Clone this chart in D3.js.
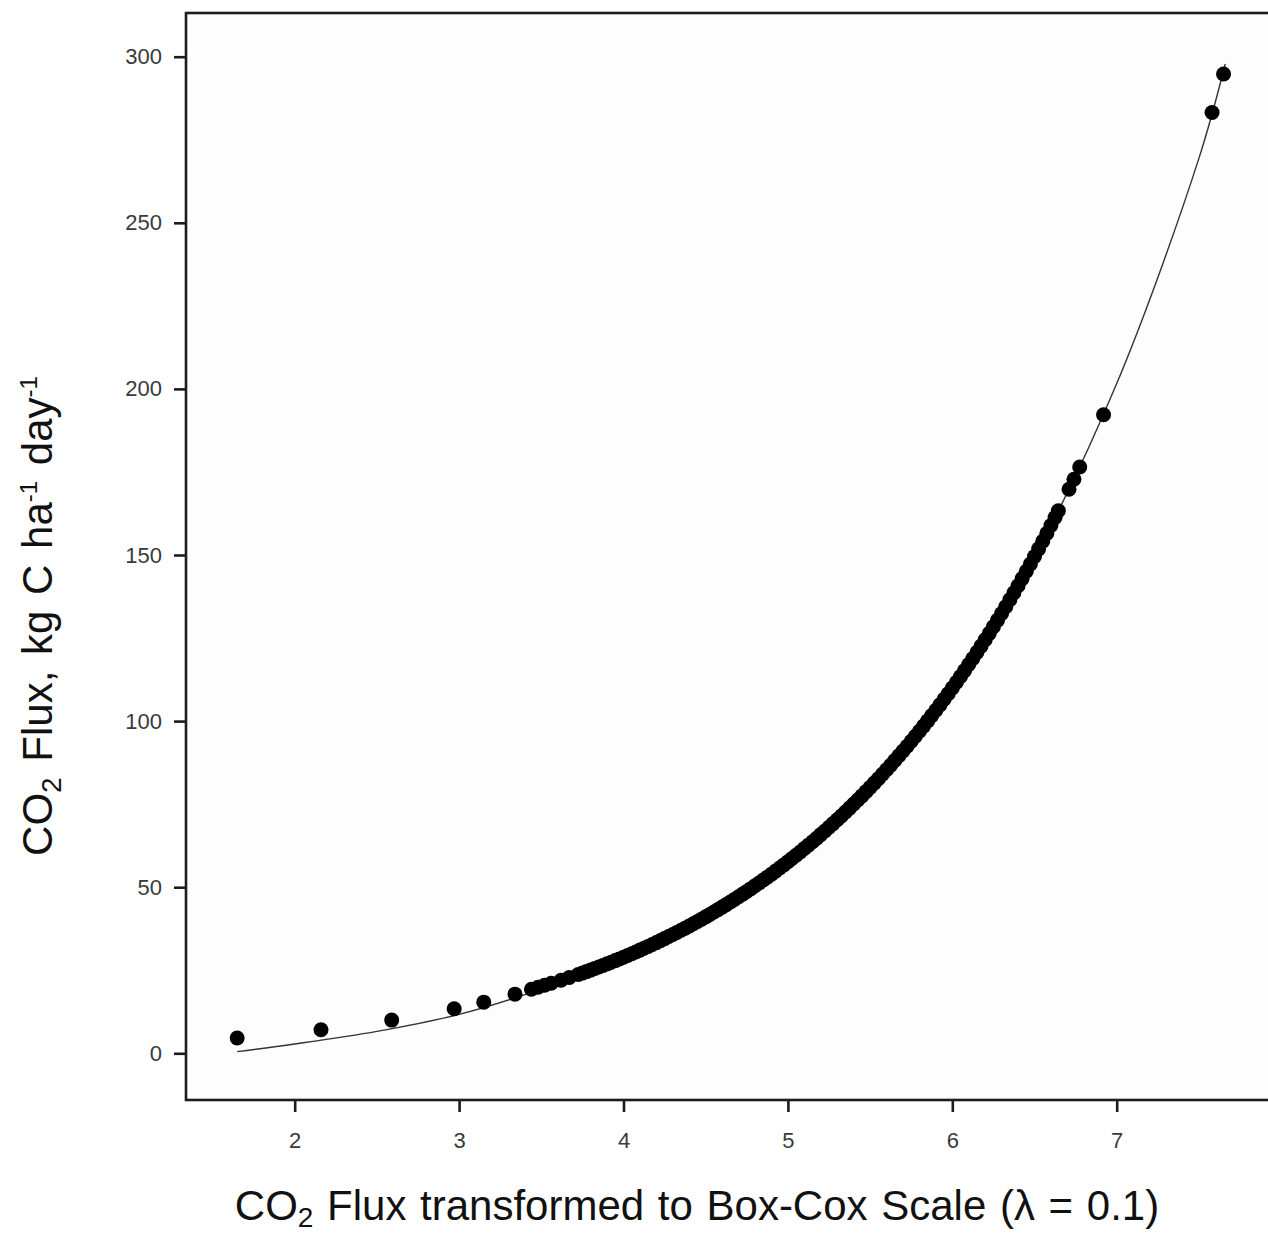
<!DOCTYPE html>
<html>
<head>
<meta charset="utf-8">
<script src="https://cdn.jsdelivr.net/npm/d3@7"></script>
<style>
	html, body { margin: 0; padding: 0; background: #fff; }
	svg { display: block; font-family: "Liberation Sans", Arial, sans-serif; }
</style>
</head>
<body>
<svg id="chart" width="1268" height="1233"></svg>
<script>
'use strict';

// observations: flux on the Box-Cox scale (lambda = 0.1) and the raw flux
var boxCox = [
	1.65, 2.16, 2.59, 2.97, 3.15, 3.34, 3.44, 3.48, 3.52, 3.56, 3.62, 3.67,
	3.725, 3.75, 3.775, 3.8, 3.825, 3.85, 3.875, 3.9, 3.925, 3.95, 3.975,
	4.0, 4.025, 4.05, 4.075, 4.1, 4.125, 4.15, 4.175, 4.2, 4.225, 4.25, 4.275,
	4.3, 4.325, 4.35, 4.375, 4.4, 4.425, 4.45, 4.475, 4.5, 4.525, 4.55, 4.575,
	4.6, 4.625, 4.65, 4.675, 4.7, 4.725, 4.75, 4.775, 4.8, 4.825, 4.85, 4.875,
	4.9, 4.925, 4.95, 4.975, 5.0, 5.025, 5.05, 5.075, 5.1, 5.125, 5.15, 5.175,
	5.2, 5.225, 5.25, 5.275, 5.3, 5.325, 5.35, 5.375, 5.4, 5.425, 5.45, 5.475,
	5.5, 5.525, 5.55, 5.575, 5.6, 5.625, 5.65, 5.675, 5.7, 5.725, 5.75, 5.775,
	5.8, 5.825, 5.85, 5.875, 5.9, 5.925, 5.95, 5.975, 6.0, 6.025, 6.05, 6.075,
	6.1, 6.125, 6.15, 6.175, 6.2, 6.225, 6.25, 6.275, 6.3, 6.325, 6.35, 6.375,
	6.4, 6.425, 6.45, 6.475, 6.5, 6.525, 6.55, 6.575, 6.6, 6.625,
	6.645, 6.71, 6.74, 6.775, 6.92, 7.58, 7.65
];
var flux = [
	4.6, 7.1, 10.0, 13.4, 15.4, 17.8, 19.3, 19.9, 20.5, 21.1, 22.0, 22.8,
	23.72, 24.15, 24.60, 25.05, 25.51, 25.97, 26.44, 26.93, 27.41, 27.91, 28.41,
	28.93, 29.45, 29.97, 30.51, 31.06, 31.61, 32.18, 32.75, 33.33, 33.92, 34.52, 35.14,
	35.76, 36.39, 37.02, 37.68, 38.34, 39.01, 39.69, 40.38, 41.08, 41.80, 42.52, 43.26,
	44.01, 44.77, 45.54, 46.32, 47.12, 47.92, 48.74, 49.57, 50.42, 51.28, 52.15, 53.03,
	53.93, 54.84, 55.77, 56.71, 57.67, 58.63, 59.61, 60.61, 61.63, 62.65, 63.69, 64.75,
	65.83, 66.92, 68.03, 69.15, 70.29, 71.45, 72.62, 73.81, 75.03, 76.25, 77.49, 78.76,
	80.04, 81.34, 82.66, 84.00, 85.36, 86.73, 88.13, 89.55, 90.99, 92.45, 93.93, 95.43,
	96.95, 98.50, 100.06, 101.65, 103.27, 104.90, 106.56, 108.24, 109.95, 111.68, 113.43, 115.21,
	117.02, 118.84, 120.69, 122.57, 124.49, 126.42, 128.38, 130.38, 132.40, 134.44, 136.51, 138.62,
	140.75, 142.90, 145.09, 147.31, 149.57, 151.85, 154.16, 156.50, 158.88, 161.28,
	163.3, 169.8, 172.8, 176.5, 192.2, 283.2, 294.8
];

// fitted curve through the observations
var fitX = [1.65, 2.0, 2.5, 3.0, 3.5, 4.0, 4.5, 5.0, 5.5, 6.0, 6.5, 7.0, 7.5, 7.66];
var fitY = [0.5, 2.8, 6.6, 11.7, 19.3, 28.6, 41.1, 57.7, 80.0, 110.0, 149.6, 201.6, 269.4, 297.8];

var xTicks = [2, 3, 4, 5, 6, 7];
var yTicks = [0, 50, 100, 150, 200, 250, 300];

var chart = {

	svg: d3.select("#chart"),

	frame: { left: 186, top: 13, right: 1300, bottom: 1100 },

	x: d3.scaleLinear().domain([2, 7]).range([294.7, 1116.7]),

	y: d3.scaleLinear().domain([0, 300]).range([1053.3, 56.7]),

	init: function() {
		this.drawFrame();
		this.drawAxes();
		this.drawFit();
		this.drawPoints();
		this.drawTitles();
	},

	drawFrame: function() {
		var f = this.frame;

		this.svg.append("rect")
			.attr("x", f.left)
			.attr("y", f.top)
			.attr("width", f.right - f.left)
			.attr("height", f.bottom - f.top)
			.attr("fill", "#fdfdfd")
			.attr("stroke", "#1c1c1c")
			.attr("stroke-width", 2.6);
	},

	drawAxes: function() {
		var yAxis = this.svg.append("g")
			.attr("transform", "translate(" + this.frame.left + ",0)")
			.call(d3.axisLeft(this.y).tickValues(yTicks).tickFormat(d3.format("d"))
				.tickSize(12).tickPadding(12));

		var xAxis = this.svg.append("g")
			.attr("transform", "translate(0," + this.frame.bottom + ")")
			.call(d3.axisBottom(this.x).tickValues(xTicks).tickFormat(d3.format("d"))
				.tickSize(12).tickPadding(20));

		[yAxis, xAxis].forEach(function(g) {
			g.select(".domain").remove();
			g.selectAll(".tick line")
				.attr("stroke", "#1c1c1c")
				.attr("stroke-width", 2.6);
			g.selectAll(".tick text")
				.attr("fill", "#3a3a3a")
				.style("font-size", "22px")
				.style("font-family", "\"Liberation Sans\", Arial, sans-serif");
		});
	},

	drawFit: function() {
		var that = this;
		var line = d3.line()
			.x(function(d, i) { return that.x(fitX[i]); })
			.y(function(d, i) { return that.y(fitY[i]); })
			.curve(d3.curveCatmullRom);

		this.svg.append("path")
			.attr("d", line(fitX))
			.attr("fill", "none")
			.attr("stroke", "#333")
			.attr("stroke-width", 1.4);
	},

	drawPoints: function() {
		var that = this;

		this.svg.append("g")
			.selectAll("circle")
			.data(boxCox)
			.enter()
			.append("circle")
			.attr("cx", function(d) { return that.x(d); })
			.attr("cy", function(d, i) { return that.y(flux[i]); })
			.attr("r", 7.5)
			.attr("fill", "#000");
	},

	drawTitles: function() {
		var xTitle = this.svg.append("text")
			.attr("x", 697)
			.attr("y", 1220)
			.attr("text-anchor", "middle")
			.attr("fill", "#111")
			.style("font-size", "42px")
			.style("word-spacing", "2px");

		xTitle.append("tspan").text("CO");
		xTitle.append("tspan").attr("dy", 7).style("font-size", "28px").text("2");
		xTitle.append("tspan").attr("dy", -7).text(" Flux transformed to Box-Cox Scale (\u03bb = 0.1)");

		var yTitle = this.svg.append("text")
			.attr("transform", "translate(52,616) rotate(-90)")
			.attr("text-anchor", "middle")
			.attr("fill", "#111")
			.style("font-size", "42px")
			.style("word-spacing", "4px");

		yTitle.append("tspan").text("CO");
		yTitle.append("tspan").attr("dy", 9).style("font-size", "28px").text("2");
		yTitle.append("tspan").attr("dy", -9).text(" Flux, kg C ha");
		yTitle.append("tspan").attr("dy", -15).style("font-size", "24px").text("-1");
		yTitle.append("tspan").attr("dy", 15).text(" day");
		yTitle.append("tspan").attr("dy", -15).style("font-size", "24px").text("-1");
	}
};

chart.init();
</script>
</body>
</html>
